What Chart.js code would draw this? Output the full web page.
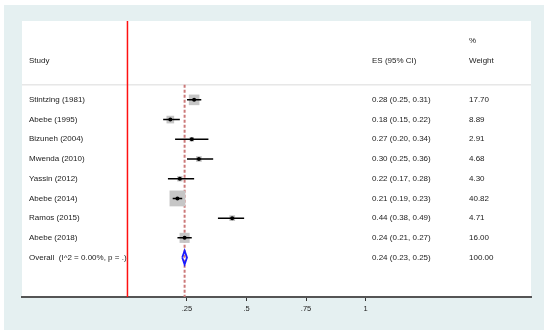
<!DOCTYPE html>
<html>
<head>
<meta charset="utf-8">
<script src="https://cdn.jsdelivr.net/npm/chart.js@4/dist/chart.umd.min.js"></script>
<style>
  body { margin: 0; background: #fff; }
  canvas { display: block; }
</style>
</head>
<body>
<canvas id="forest" width="550" height="336"></canvas>
<script>
const studies = ['Stintzing (1981)', 'Abebe (1995)', 'Bizuneh (2004)', 'Mwenda (2010)', 'Yassin (2012)', 'Abebe (2014)', 'Ramos (2015)', 'Abebe (2018)']
const es = [0.28, 0.18, 0.27, 0.30, 0.22, 0.21, 0.44, 0.24]
const lo = [0.25, 0.15, 0.20, 0.25, 0.17, 0.19, 0.38, 0.21]
const hi = [0.31, 0.22, 0.34, 0.36, 0.28, 0.23, 0.49, 0.27]
const weight = [17.70, 8.89, 2.91, 4.68, 4.30, 40.82, 4.71, 16.00]

const overallLabel = 'Overall  (I^2 = 0.00%, p = .)'
const overallES = 0.24
const overallLo = 0.23
const overallHi = 0.25
const overallWeight = 100.00

const xTicks = [0.25, 0.5, 0.75, 1]
const xTickLabels = ['.25', '.5', '.75', '1']

const X_MIN = -0.443, X_MAX = 1.695
const Y_MIN = -4, Y_MAX = 10
const overallRow = studies.length
const headerLine = -0.76

const fmt = v => v.toFixed(2)

// CI segments, separated by gaps
const ciData = []
studies.forEach((s, i) => {
    ciData.push({ x: lo[i], y: i }, { x: hi[i], y: i }, { x: hi[i], y: null })
})

const boxData = studies.map((s, i) => ({ x: es[i], y: i }))
const boxRadius = weight.map(w => (2.4 * Math.sqrt(w) + 0.5) / Math.SQRT2)

const diamond = [
    { x: overallLo, y: overallRow },
    { x: overallES, y: overallRow - 0.35 },
    { x: overallHi, y: overallRow },
    { x: overallES, y: overallRow + 0.35 },
    { x: overallLo, y: overallRow }
]

const panel = {
    id: 'panel',
    beforeDraw(chart) {
        const { ctx, chartArea } = chart
        ctx.save()
        ctx.fillStyle = '#e5f0f1'
        ctx.fillRect(4, 5, 540, 325)
        ctx.fillStyle = '#ffffff'
        ctx.fillRect(chartArea.left, chartArea.top, chartArea.right - chartArea.left, chartArea.bottom - chartArea.top)
        ctx.restore()
    },
    afterDatasetsDraw(chart) {
        const { ctx } = chart
        const y = chart.scales.y
        ctx.save()
        ctx.font = '8px "Liberation Sans", Arial, sans-serif'
        ctx.fillStyle = '#222'
        ctx.textBaseline = 'middle'
        ctx.textAlign = 'left'
        ctx.fillText('Study', 29, y.getPixelForValue(-2))
        ctx.fillText('ES (95% CI)', 372, y.getPixelForValue(-2))
        ctx.fillText('%', 469, y.getPixelForValue(-3))
        ctx.fillText('Weight', 469, y.getPixelForValue(-2))
        studies.forEach((s, i) => {
            const py = y.getPixelForValue(i)
            ctx.fillText(s, 29, py)
            ctx.fillText(`${fmt(es[i])} (${fmt(lo[i])}, ${fmt(hi[i])})`, 372, py)
            ctx.fillText(fmt(weight[i]), 469, py)
        })
        const oy = y.getPixelForValue(overallRow)
        ctx.fillText(overallLabel, 29, oy)
        ctx.fillText(`${fmt(overallES)} (${fmt(overallLo)}, ${fmt(overallHi)})`, 372, oy)
        ctx.fillText(fmt(overallWeight), 469, oy)
        ctx.restore()
    }
}

new Chart(document.getElementById('forest'), {
    type: 'scatter',
    data: {
        datasets: [
            {
                type: 'line',
                data: [{ x: X_MIN, y: headerLine }, { x: X_MAX, y: headerLine }],
                borderColor: '#dadada',
                borderWidth: 1,
                pointRadius: 0,
                order: 9
            },
            {
                type: 'line',
                data: [{ x: 0, y: Y_MIN }, { x: 0, y: Y_MAX }],
                borderColor: '#ff1010',
                borderWidth: 1.5,
                pointRadius: 0,
                order: 8
            },
            {
                type: 'line',
                data: [{ x: overallES, y: headerLine }, { x: overallES, y: Y_MAX }],
                borderColor: '#cc7a7a',
                borderWidth: 2,
                borderDash: [3, 2],
                pointRadius: 0,
                order: 7
            },
            {
                data: boxData,
                pointStyle: 'rect',
                pointRadius: boxRadius,
                backgroundColor: '#c6c6c6',
                borderWidth: 0,
                order: 5
            },
            {
                type: 'line',
                data: ciData,
                borderColor: '#000',
                borderWidth: 1.5,
                pointRadius: 0,
                spanGaps: false,
                order: 3
            },
            {
                data: boxData,
                pointStyle: 'circle',
                pointRadius: 2,
                backgroundColor: '#000',
                borderWidth: 0,
                order: 1
            },
            {
                type: 'line',
                data: diamond,
                borderColor: '#1a1aff',
                borderWidth: 1.8,
                pointRadius: 0,
                fill: false,
                tension: 0,
                order: 2
            }
        ]
    },
    options: {
        responsive: false,
        animation: false,
        layout: { padding: { left: 22, right: 19, top: 21, bottom: 0 } },
        plugins: { legend: { display: false }, tooltip: { enabled: false } },
        scales: {
            x: {
                type: 'linear',
                min: X_MIN,
                max: X_MAX,
                afterBuildTicks: axis => { axis.ticks = xTicks.map(v => ({ value: v })) },
                afterFit: axis => { axis.height = 39 },
                ticks: {
                    autoSkip: false,
                    maxRotation: 0,
                    padding: 3,
                    color: '#222',
                    font: { family: '"Liberation Sans", Arial, sans-serif', size: 7.5 },
                    callback: v => xTickLabels[xTicks.indexOf(v)]
                },
                grid: { drawOnChartArea: false, drawTicks: true, tickLength: 4, color: '#333', lineWidth: 1 },
                border: { display: true, color: '#555', width: 2 }
            },
            y: {
                type: 'linear',
                display: false,
                min: Y_MIN,
                max: Y_MAX,
                reverse: true
            }
        }
    },
    plugins: [panel]
})
</script>
</body>
</html>
